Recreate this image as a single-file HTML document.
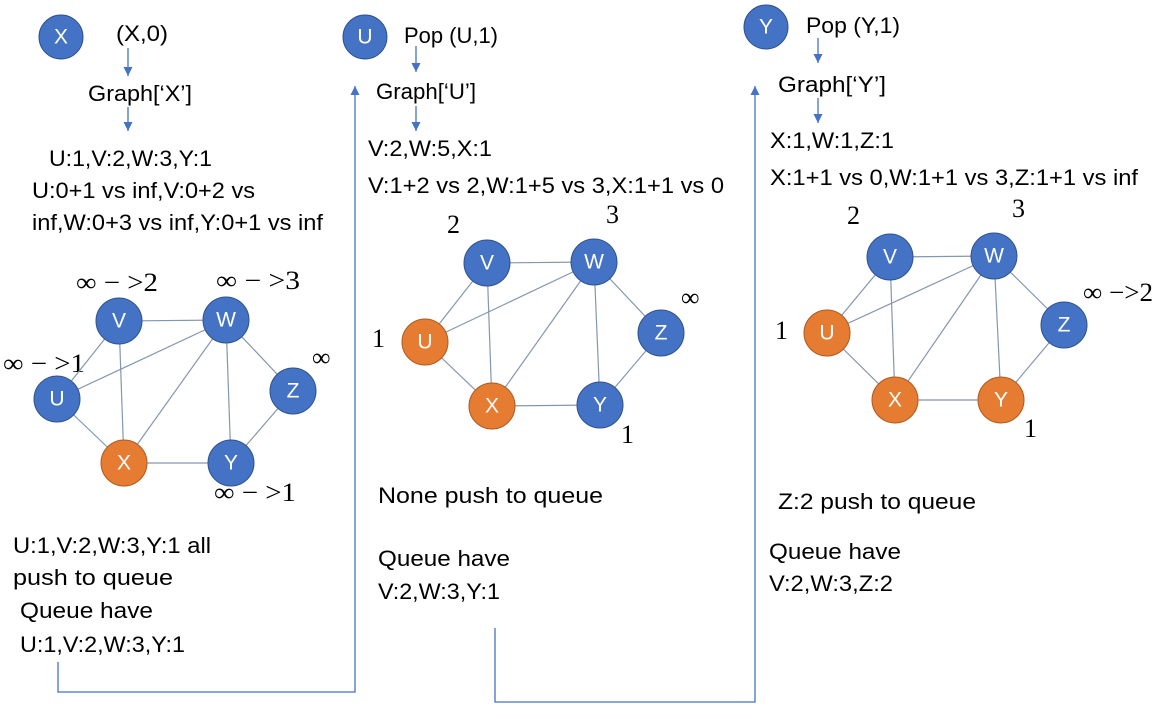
<!DOCTYPE html>
<html><head><meta charset="utf-8"><style>
body{margin:0;background:#fff;width:1170px;height:719px;overflow:hidden}
svg{display:block}
.t{font-family:"Liberation Sans",sans-serif;font-size:22.5px;fill:#000}
.s{font-family:"Liberation Serif",serif;font-size:26px;fill:#000}
.n{font-family:"Liberation Sans",sans-serif;font-size:21px;fill:#fff;text-anchor:middle;dominant-baseline:central}
.ar{stroke:#4472C4;stroke-width:1.3;fill:none}
</style></head><body>
<svg id="svg" width="1170" height="719">
<defs>
<marker id="ahd" viewBox="0 0 10 10" markerWidth="9" markerHeight="9" refX="10" refY="5" orient="auto" markerUnits="userSpaceOnUse"><path d="M0,0 L10,5 L0,10z" fill="#4472C4"/></marker></defs>

<g>
<circle cx="61" cy="37" r="22" fill="#4472C4" stroke="#2F528F"/><text class="n" x="61" y="37">X</text>
<text class="t" x="116" y="41" textLength="52" lengthAdjust="spacingAndGlyphs">(X,0)</text>
<line class="ar" x1="128" y1="48" x2="128" y2="76" marker-end="url(#ahd)"/>
<text class="t" x="88" y="101" textLength="104" lengthAdjust="spacingAndGlyphs">Graph[‘X’]</text>
<line class="ar" x1="128" y1="107" x2="128" y2="131" marker-end="url(#ahd)"/>
<text class="t" x="49" y="166" textLength="163" lengthAdjust="spacingAndGlyphs">U:1,V:2,W:3,Y:1</text>
<text class="t" x="32" y="198" textLength="223" lengthAdjust="spacingAndGlyphs">U:0+1 vs inf,V:0+2 vs</text>
<text class="t" x="32" y="230" textLength="291" lengthAdjust="spacingAndGlyphs">inf,W:0+3 vs inf,Y:0+1 vs inf</text>
<text class="s" x="76" y="291" textLength="82" lengthAdjust="spacingAndGlyphs">∞ − &gt;2</text>
<text class="s" x="216" y="289" textLength="84" lengthAdjust="spacingAndGlyphs">∞ − &gt;3</text>
<text class="s" x="3" y="372" textLength="82" lengthAdjust="spacingAndGlyphs">∞ − &gt;1</text>
<text class="s" x="312" y="366">∞</text>
<text class="s" x="214" y="501" textLength="82" lengthAdjust="spacingAndGlyphs">∞ − &gt;1</text>
<text class="t" x="13" y="553" textLength="198" lengthAdjust="spacingAndGlyphs">U:1,V:2,W:3,Y:1 all</text>
<text class="t" x="13" y="585" textLength="160" lengthAdjust="spacingAndGlyphs">push to queue</text>
<text class="t" x="20" y="618" textLength="133" lengthAdjust="spacingAndGlyphs">Queue have</text>
<text class="t" x="20" y="652" textLength="165" lengthAdjust="spacingAndGlyphs">U:1,V:2,W:3,Y:1</text>
<polyline class="ar" points="58,662 58,692 355,692 355,86" marker-end="url(#ahd)"/>
</g>

<g>
<circle cx="365" cy="37" r="22" fill="#4472C4" stroke="#2F528F"/><text class="n" x="365" y="37">U</text>
<text class="t" x="404" y="43" textLength="94" lengthAdjust="spacingAndGlyphs">Pop (U,1)</text>
<line class="ar" x1="416" y1="46" x2="416" y2="72" marker-end="url(#ahd)"/>
<text class="t" x="376" y="99" textLength="100" lengthAdjust="spacingAndGlyphs">Graph[‘U’]</text>
<line class="ar" x1="416" y1="106" x2="416" y2="131" marker-end="url(#ahd)"/>
<text class="t" x="368" y="156" textLength="124" lengthAdjust="spacingAndGlyphs">V:2,W:5,X:1</text>
<text class="t" x="368" y="193" textLength="356" lengthAdjust="spacingAndGlyphs">V:1+2 vs 2,W:1+5 vs 3,X:1+1 vs 0</text>
<text class="s" x="447" y="233">2</text>
<text class="s" x="606" y="223">3</text>
<text class="s" x="681" y="306">∞</text>
<text class="s" x="372" y="347">1</text>
<text class="s" x="621" y="443">1</text>
<text class="t" x="378" y="503" textLength="225" lengthAdjust="spacingAndGlyphs">None push to queue</text>
<text class="t" x="378" y="566" textLength="132" lengthAdjust="spacingAndGlyphs">Queue have</text>
<text class="t" x="378" y="599" textLength="122" lengthAdjust="spacingAndGlyphs">V:2,W:3,Y:1</text>
<polyline class="ar" points="495,628 495,702 755,702 755,86" marker-end="url(#ahd)"/>
</g>

<g>
<circle cx="766" cy="27" r="22" fill="#4472C4" stroke="#2F528F"/><text class="n" x="766" y="27">Y</text>
<text class="t" x="806" y="33" textLength="94" lengthAdjust="spacingAndGlyphs">Pop (Y,1)</text>
<line class="ar" x1="818" y1="38" x2="818" y2="63" marker-end="url(#ahd)"/>
<text class="t" x="778" y="92" textLength="108" lengthAdjust="spacingAndGlyphs">Graph[‘Y’]</text>
<line class="ar" x1="818" y1="98" x2="818" y2="123" marker-end="url(#ahd)"/>
<text class="t" x="770" y="148" textLength="124" lengthAdjust="spacingAndGlyphs">X:1,W:1,Z:1</text>
<text class="t" x="770" y="185" textLength="368" lengthAdjust="spacingAndGlyphs">X:1+1 vs 0,W:1+1 vs 3,Z:1+1 vs inf</text>
<text class="s" x="847" y="224">2</text>
<text class="s" x="1012" y="217">3</text>
<text class="s" x="1083" y="301" textLength="70" lengthAdjust="spacingAndGlyphs">∞ −&gt;2</text>
<text class="s" x="775" y="339">1</text>
<text class="s" x="1024" y="437">1</text>
<text class="t" x="778" y="509" textLength="198" lengthAdjust="spacingAndGlyphs">Z:2 push to queue</text>
<text class="t" x="769" y="559" textLength="132" lengthAdjust="spacingAndGlyphs">Queue have</text>
<text class="t" x="769" y="591" textLength="124" lengthAdjust="spacingAndGlyphs">V:2,W:3,Z:2</text>
</g>
<g id="graphs"></g>
</svg>
<script>
const nodeNames=["V","W","U","Z","X","Y"];
const edges=[["V","W"],["V","U"],["V","X"],["U","W"],["U","X"],["W","X"],["W","Y"],["W","Z"],["Z","Y"],["X","Y"]];
const graphs=[
 {pos:{V:[119,321],W:[226,320],U:[57,399],Z:[293,391],X:[124,463],Y:[231,463]},orange:["X"]},
 {pos:{V:[487,263],W:[594,262],U:[425,342],Z:[661,333],X:[492,406],Y:[600,405]},orange:["U","X"]},
 {pos:{V:[890,257],W:[994,256],U:[827,333],Z:[1064,325],X:[895,400],Y:[1001,400]},orange:["U","X","Y"]}
];
const NS="http://www.w3.org/2000/svg",G=document.getElementById("graphs");
graphs.forEach((g,gi)=>{
 const grp=document.createElementNS(NS,"g");
 
 
 G.appendChild(grp);
 edges.forEach(([a,b])=>{
  const l=document.createElementNS(NS,"line");
  
  
  l.setAttribute("x1",g.pos[a][0]);l.setAttribute("y1",g.pos[a][1]);
  l.setAttribute("x2",g.pos[b][0]);l.setAttribute("y2",g.pos[b][1]);
  l.setAttribute("stroke","#8497B0");l.setAttribute("stroke-width","1.2");
  grp.appendChild(l);
 });
 nodeNames.forEach(n=>{
  const c=document.createElementNS(NS,"circle");
  
  
  c.setAttribute("cx",g.pos[n][0]);c.setAttribute("cy",g.pos[n][1]);c.setAttribute("r",23);
  const o=g.orange.includes(n);
  c.setAttribute("fill",o?"#E67B32":"#4472C4");
  c.setAttribute("stroke",o?"#AE5A21":"#2F528F");
  grp.appendChild(c);
  const t=document.createElementNS(NS,"text");
  
  
  t.setAttribute("class","n");t.setAttribute("x",g.pos[n][0]);t.setAttribute("y",g.pos[n][1]);
  t.textContent=n;grp.appendChild(t);
 });
});
</script>
</body></html>
